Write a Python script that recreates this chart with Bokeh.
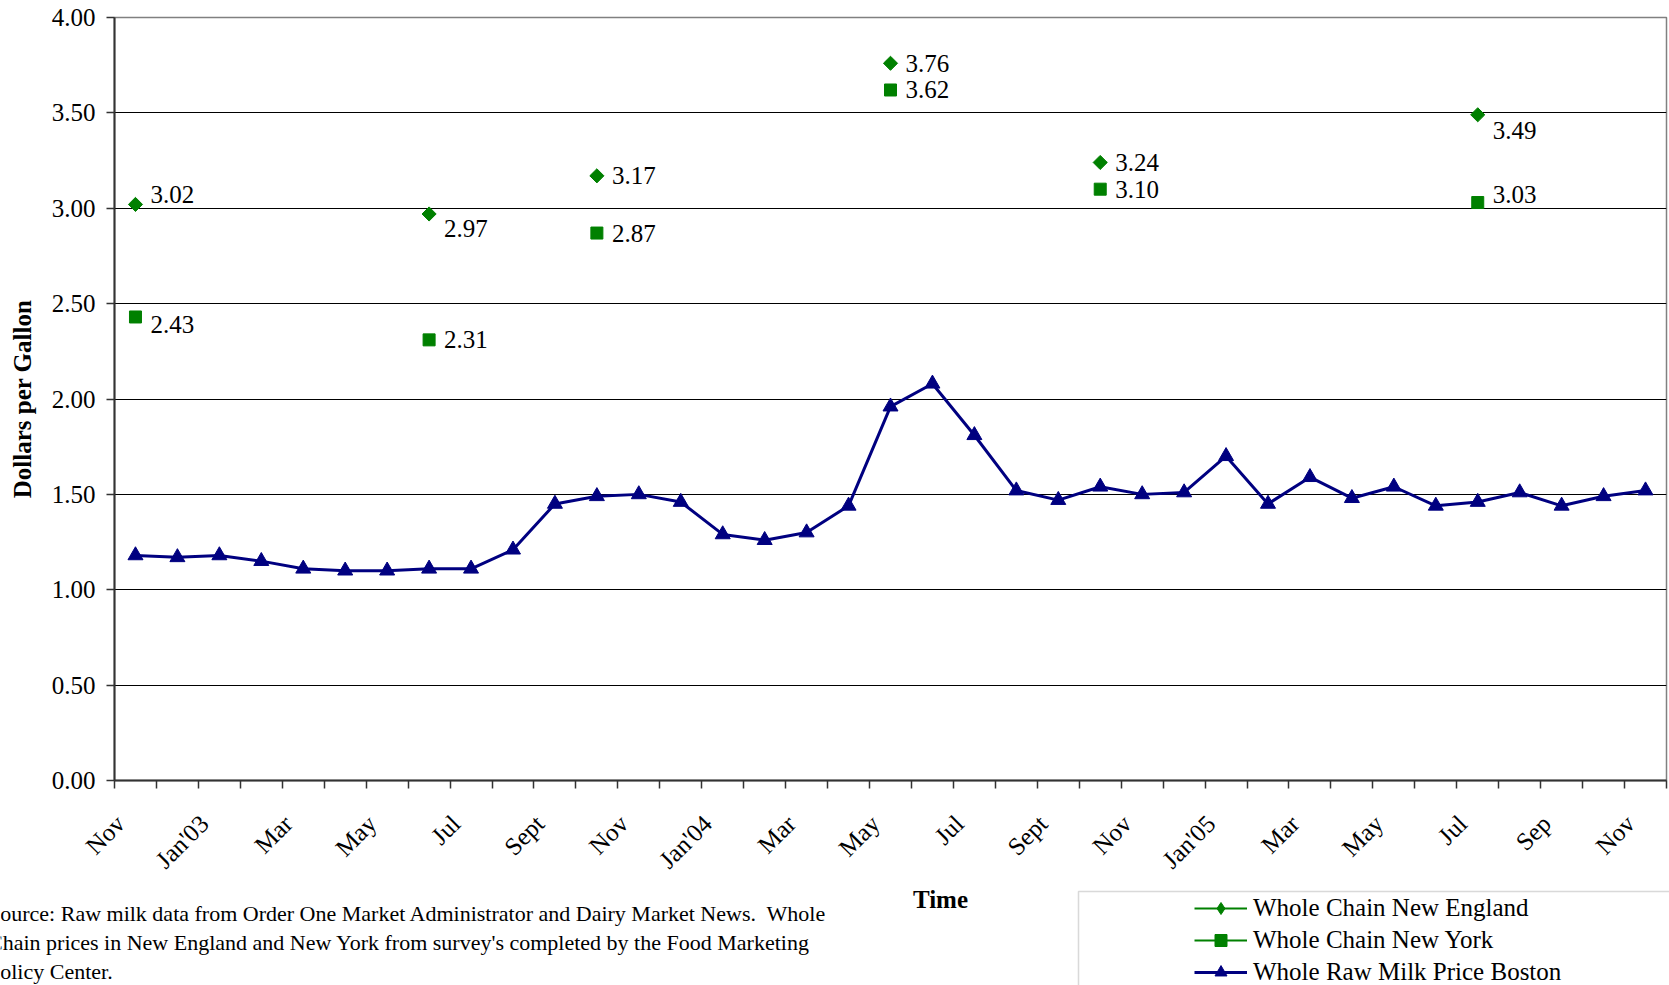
import math
from bokeh.plotting import figure
from bokeh.layouts import column
from bokeh.models import (ColumnDataSource, FixedTicker, NumeralTickFormatter, Label,
                          LabelSet, Legend, LegendItem, BoxAnnotation, Range1d)
from bokeh.core.properties import value
from bokeh.embed import file_html
from bokeh.resources import INLINE

# ---------------- data ----------------
months = ["Nov", "Dec", "Jan'03", "Feb", "Mar", "Apr", "May", "Jun", "Jul", "Aug",
          "Sept", "Oct", "Nov", "Dec", "Jan'04", "Feb", "Mar", "Apr", "May", "Jun",
          "Jul", "Aug", "Sept", "Oct", "Nov", "Dec", "Jan'05", "Feb", "Mar", "Apr",
          "May", "Jun", "Jul", "Aug", "Sep", "Oct", "Nov"]
boston = [1.18, 1.17, 1.18, 1.15, 1.11, 1.10, 1.10, 1.11, 1.11, 1.21,
          1.45, 1.49, 1.50, 1.46, 1.29, 1.26, 1.30, 1.44, 1.96, 2.08,
          1.81, 1.52, 1.47, 1.54, 1.50, 1.51, 1.70, 1.45, 1.59, 1.48,
          1.54, 1.44, 1.46, 1.51, 1.44, 1.49, 1.52]
chain_idx = [0, 7, 11, 18, 23, 32]
new_england = [3.02, 2.97, 3.17, 3.76, 3.24, 3.49]
new_york = [2.43, 2.31, 2.87, 3.62, 3.10, 3.03]
y_ticks = [0.0, 0.5, 1.0, 1.5, 2.0, 2.5, 3.0, 3.5, 4.0]
series_names = ["Whole Chain New England", "Whole Chain New York", "Whole Raw Milk Price Boston"]
y_title = "Dollars per Gallon"
x_title = "Time"
source_lines = [
    "Source: Raw milk data from Order One Market Administrator and Dairy Market News.\u00a0 Whole",
    "Chain prices in New England and New York from survey's completed by the Food Marketing",
    "Policy Center.",
]

# ---------------- layout / style ----------------
ne_label_dy = [10, -15, 0, 0, 0, -16]   # vertical nudge of value labels (px, up +)
ny_label_dy = [-8, 0, 0, 0, 0, 8]
label_shift = 0.36                      # category labels sit left of the category centre
SERIF = "Liberation Serif"
GREEN = "#008000"
NAVY = "#000080"
W = 1669
MAIN_H = 886
FOOT_H = 99


def no_frame_align(fig):
    try:
        fig.frame_align = False
    except Exception:
        pass


n = len(months)
nan = float("nan")
ne_full = [nan] * n
ny_full = [nan] * n
for i, a, b in zip(chain_idx, new_england, new_york):
    ne_full[i] = a
    ny_full[i] = b

src = ColumnDataSource(dict(x=list(range(n)), boston=boston, ne=ne_full, ny=ny_full))

p = figure(width=W, height=MAIN_H, output_backend="svg", toolbar_location=None,
           x_range=Range1d(-0.5, n - 0.5), y_range=Range1d(0, 4),
           min_border_left=114, min_border_right=3, min_border_top=17,
           min_border_bottom=MAIN_H - 782)
no_frame_align(p)
p.background_fill_color = "white"
p.border_fill_color = "white"
p.outline_line_color = "#808080"
p.outline_line_width = 1.5

# y axis
ya = p.yaxis[0]
ya.ticker = FixedTicker(ticks=y_ticks, minor_ticks=[])
ya.formatter = NumeralTickFormatter(format="0.00")
ya.major_tick_out = 8
ya.major_tick_in = 0
ya.major_tick_line_color = "#333333"
ya.major_tick_line_width = 1.5
ya.axis_line_color = "#333333"
ya.axis_line_width = 2
ya.major_label_text_font = SERIF
ya.major_label_text_font_size = "25px"
ya.major_label_text_color = "black"
ya.major_label_standoff = 11
ya.axis_label = y_title
ya.axis_label_text_font = SERIF
ya.axis_label_text_font_style = "bold"
ya.axis_label_text_font_size = "25px"
ya.axis_label_text_color = "black"
ya.axis_label_standoff = 13

# x axis
xa = p.xaxis[0]
label_ticks = [i - label_shift for i in range(0, n, 2)]
xa.ticker = FixedTicker(ticks=label_ticks, minor_ticks=[i - 0.5 for i in range(n + 1)])
xa.major_label_overrides = {t: months[i] for t, i in zip(label_ticks, range(0, n, 2))}
xa.major_tick_out = 0
xa.major_tick_in = 0
xa.minor_tick_out = 8
xa.minor_tick_in = 0
xa.minor_tick_line_color = "#333333"
xa.minor_tick_line_width = 1.5
xa.axis_line_color = "#333333"
xa.axis_line_width = 2
xa.major_label_orientation = math.pi / 4
xa.major_label_text_font = SERIF
xa.major_label_text_font_size = "25px"
xa.major_label_text_color = "black"
xa.major_label_standoff = 31

p.xgrid.visible = False
p.ygrid.ticker = FixedTicker(ticks=y_ticks[1:-1])
p.ygrid.grid_line_color = "black"
p.ygrid.grid_line_width = 1

# series
nel = p.line("x", "ne", source=src, line_color=GREEN, line_width=2)
nes = p.scatter("x", "ne", source=src, marker="square", angle=math.pi / 4, size=10,
                fill_color=GREEN, line_color=GREEN)
nyl = p.line("x", "ny", source=src, line_color=GREEN, line_width=2)
nys = p.scatter("x", "ny", source=src, marker="square", size=12,
                fill_color=GREEN, line_color=GREEN)
bl = p.line("x", "boston", source=src, line_color=NAVY, line_width=3)
bs = p.scatter("x", "boston", source=src, marker="triangle", size=15,
               fill_color=NAVY, line_color=NAVY)

# value labels
lab_src = ColumnDataSource(dict(
    x=chain_idx + chain_idx,
    y=new_england + new_york,
    text=[f"{v:.2f}" for v in new_england + new_york],
    dy=ne_label_dy + ny_label_dy,
))
p.add_layout(LabelSet(x="x", y="y", text="text", source=lab_src, x_offset=15, y_offset="dy",
                      text_align="left", text_baseline="middle",
                      text_font=value(SERIF), text_font_size=value("25px"), text_color="black"))

# ---------------- footer: axis title, source note, legend ----------------
f = figure(width=W, height=FOOT_H, output_backend="svg", toolbar_location=None,
           x_range=Range1d(0, W), y_range=Range1d(0, FOOT_H),
           x_axis_type=None, y_axis_type=None, min_border=0)
no_frame_align(f)
f.outline_line_color = None
f.background_fill_color = "white"
f.border_fill_color = "white"


def fy(page_y):
    # footer screen units are measured up from the page bottom
    return MAIN_H + FOOT_H - page_y


f.add_layout(Label(x=940, y=fy(899), x_units="screen", y_units="screen", text=x_title,
                   text_align="center", text_baseline="middle",
                   text_font=SERIF, text_font_style="bold", text_font_size="25px",
                   text_color="black"))
for k, line in enumerate(source_lines):
    f.add_layout(Label(x=-12.5, y=fy(913 + 29 * k), x_units="screen", y_units="screen",
                       text=line, text_align="left", text_baseline="alphabetic",
                       text_font=SERIF, text_font_size="22px", text_color="black"))

f.add_layout(BoxAnnotation(left=1078, right=W + 3, top=fy(891), bottom=-3,
                           left_units="screen", right_units="screen",
                           top_units="screen", bottom_units="screen",
                           fill_alpha=0, line_color="#808080", line_width=1.5))

# legend swatches (a single point far outside the footer's visible area)
off = dict(x=[-1000], y=[-1000])
lg_nel = f.line(x=off["x"], y=off["y"], line_color=GREEN, line_width=2)
lg_nes = f.scatter(x=off["x"], y=off["y"], marker="diamond", size=12,
                   fill_color=GREEN, line_color=GREEN)
lg_nyl = f.line(x=off["x"], y=off["y"], line_color=GREEN, line_width=2)
lg_nys = f.scatter(x=off["x"], y=off["y"], marker="square", size=12,
                   fill_color=GREEN, line_color=GREEN)
lg_bl = f.line(x=off["x"], y=off["y"], line_color=NAVY, line_width=3)
lg_bs = f.scatter(x=off["x"], y=off["y"], marker="triangle", size=15,
                  fill_color=NAVY, line_color=NAVY)

legend = Legend(items=[LegendItem(label=series_names[0], renderers=[lg_nel, lg_nes]),
                       LegendItem(label=series_names[1], renderers=[lg_nyl, lg_nys]),
                       LegendItem(label=series_names[2], renderers=[lg_bl, lg_bs])],
                location=(1194, -2), orientation="vertical", padding=0, margin=0, spacing=2,
                border_line_color=None, background_fill_alpha=0,
                glyph_width=53, glyph_height=30, label_height=30, label_standoff=6,
                label_text_font=SERIF, label_text_font_size="25px", label_text_color="black")
f.add_layout(legend)

open("out.html", "w").write(file_html(column(p, f, spacing=0), INLINE))
